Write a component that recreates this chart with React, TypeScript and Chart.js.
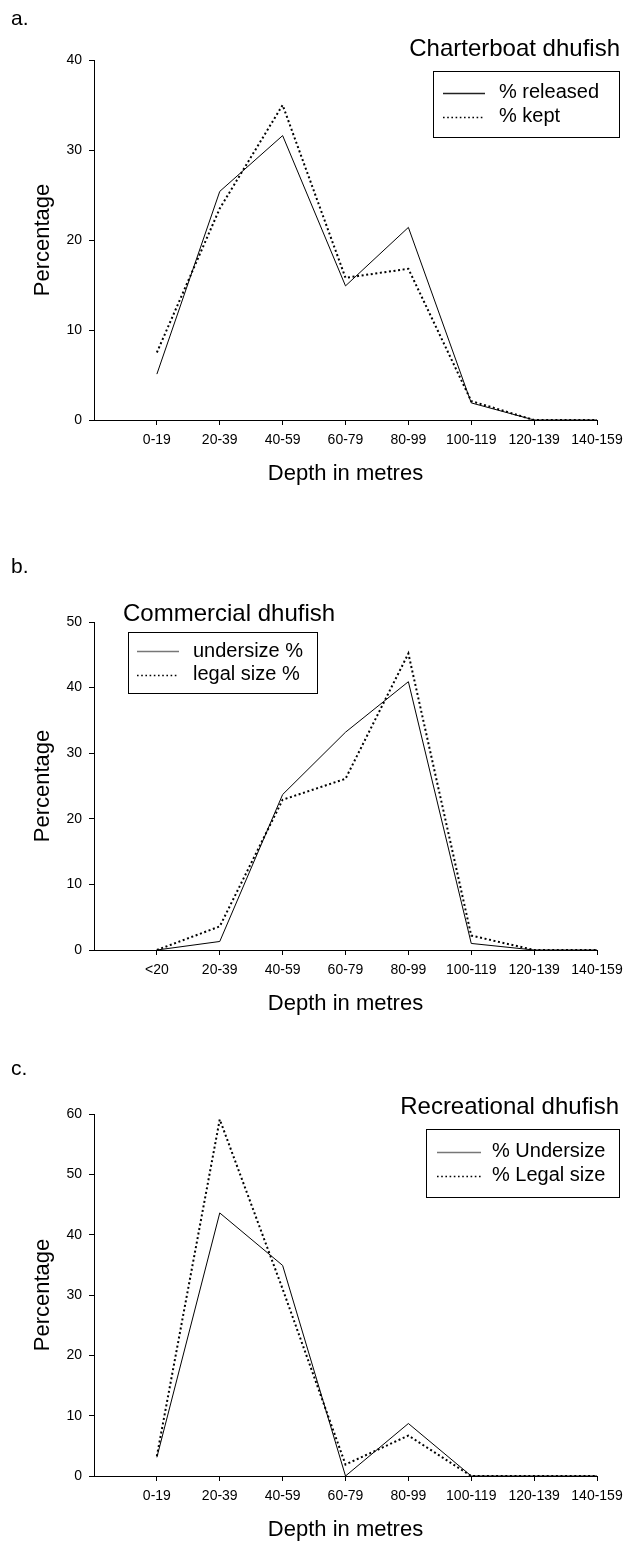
import React, { useEffect, useRef } from "react";
import { Chart, registerables } from "chart.js";

Chart.register(...registerables);

const FONT = "'Liberation Sans', Arial, Helvetica, sans-serif";

// ---------- data ----------
const depthLabelsA = ["0-19", "20-39", "40-59", "60-79", "80-99", "100-119", "120-139", "140-159"];
const depthLabelsB = ["<20", "20-39", "40-59", "60-79", "80-99", "100-119", "120-139", "140-159"];
const depthLabelsC = ["0-19", "20-39", "40-59", "60-79", "80-99", "100-119", "120-139", "140-159"];

const releasedA = [5.1, 25.4, 31.6, 14.9, 21.4, 1.9, 0, 0];
const keptA = [7.5, 23.5, 35.0, 15.8, 16.8, 2.1, 0, 0];

const undersizeB = [0, 1.3, 23.7, 33.2, 40.9, 1.0, 0, 0];
const legalB = [0, 3.6, 22.9, 26.1, 45.2, 2.2, 0, 0];

const undersizeC = [3.1, 43.6, 34.9, 0, 8.7, 0, 0, 0];
const legalC = [3.3, 59.1, 31.0, 1.9, 6.7, 0, 0, 0];

const yMaxA = 40;
const yMaxB = 50;
const yMaxC = 60;
const yStep = 10;

// ---------- layout ----------
type Series = { label: string; data: number[]; dotted: boolean };
type PanelCfg = {
  top: number;
  height: number;
  labels: string[];
  series: Series[];
  yMax: number;
  area: { left: number; right: number; top: number; bottom: number };
  panelLabel: string;
  panelY: number;
  title: string;
  titleX: number;
  titleY: number;
  titleAlign: CanvasTextAlign;
  legend: { x: number; y: number; w: number; h: number; rows: number[]; lx1: number; lx2: number; tx: number; solidColor: string };
};

const W = 623;

const panels: PanelCfg[] = [
  {
    top: 0,
    height: 500,
    labels: depthLabelsA,
    series: [
      { label: "% released", data: releasedA, dotted: false },
      { label: "% kept", data: keptA, dotted: true },
    ],
    yMax: yMaxA,
    area: { left: 94, right: 597, top: 60, bottom: 420 },
    panelLabel: "a.",
    panelY: 25,
    title: "Charterboat dhufish",
    titleX: 620,
    titleY: 56,
    titleAlign: "right",
    legend: { x: 433, y: 71, w: 186, h: 66, rows: [92.5, 116.5], lx1: 443, lx2: 485, tx: 499, solidColor: "#222" },
  },
  {
    top: 500,
    height: 520,
    labels: depthLabelsB,
    series: [
      { label: "undersize %", data: undersizeB, dotted: false },
      { label: "legal size %", data: legalB, dotted: true },
    ],
    yMax: yMaxB,
    area: { left: 94, right: 597, top: 122, bottom: 450 },
    panelLabel: "b.",
    panelY: 73,
    title: "Commercial dhufish",
    titleX: 123,
    titleY: 120.5,
    titleAlign: "left",
    legend: { x: 128, y: 132, w: 189, h: 61, rows: [151, 174.5], lx1: 137, lx2: 179, tx: 193, solidColor: "#777" },
  },
  {
    top: 1020,
    height: 523,
    labels: depthLabelsC,
    series: [
      { label: "% Undersize", data: undersizeC, dotted: false },
      { label: "% Legal size", data: legalC, dotted: true },
    ],
    yMax: yMaxC,
    area: { left: 94, right: 597, top: 94, bottom: 456 },
    panelLabel: "c.",
    panelY: 55,
    title: "Recreational dhufish",
    titleX: 619,
    titleY: 94,
    titleAlign: "right",
    legend: { x: 426, y: 109, w: 193, h: 68, rows: [131.5, 155.5], lx1: 437, lx2: 481, tx: 492, solidColor: "#777" },
  },
];

function makeOverlay(cfg: PanelCfg) {
  return {
    id: "overlay",
    afterDraw(chart: any) {
      const ctx: CanvasRenderingContext2D = chart.ctx;
      const ca = chart.chartArea;
      ctx.save();
      ctx.fillStyle = "#000";
      // panel label
      ctx.font = `21px ${FONT}`;
      ctx.textAlign = "left";
      ctx.textBaseline = "alphabetic";
      ctx.fillText(cfg.panelLabel, 11, cfg.panelY);
      // title
      ctx.font = `24px ${FONT}`;
      ctx.textAlign = cfg.titleAlign;
      ctx.fillText(cfg.title, cfg.titleX, cfg.titleY);
      // legend box
      const L = cfg.legend;
      ctx.strokeStyle = "#000";
      ctx.lineWidth = 1;
      ctx.setLineDash([]);
      ctx.strokeRect(L.x + 0.5, L.y + 0.5, L.w, L.h);
      ctx.font = `20px ${FONT}`;
      ctx.textAlign = "left";
      ctx.textBaseline = "middle";
      chart.data.datasets.forEach((ds: any, i: number) => {
        const y = L.rows[i];
        ctx.beginPath();
        if (ds.borderDash && ds.borderDash.length) {
          ctx.setLineDash([1.6, 2.6]);
          ctx.lineWidth = 1.6;
          ctx.strokeStyle = "#000";
        } else {
          ctx.setLineDash([]);
          ctx.lineWidth = 1.4;
          ctx.strokeStyle = L.solidColor;
        }
        ctx.moveTo(L.lx1, Math.round(y) + 0.5);
        ctx.lineTo(L.lx2, Math.round(y) + 0.5);
        ctx.stroke();
        ctx.setLineDash([]);
        ctx.fillText(ds.label, L.tx, y);
      });
      // axis titles
      ctx.font = `22px ${FONT}`;
      ctx.textAlign = "center";
      ctx.textBaseline = "middle";
      ctx.fillText("Depth in metres", (ca.left + ca.right) / 2, ca.bottom + 54);
      ctx.save();
      ctx.translate(43, (ca.top + ca.bottom) / 2);
      ctx.rotate(-Math.PI / 2);
      ctx.fillText("Percentage", 0, 0);
      ctx.restore();
      ctx.restore();
    },
  };
}

function buildConfig(cfg: PanelCfg): any {
  const xHeight = cfg.height - cfg.area.bottom;
  return {
    type: "line",
    data: {
      datasets: cfg.series.map((s) => ({
        label: s.label,
        data: s.data.map((v, i) => ({ x: i + 1, y: v })),
        borderColor: "#000",
        borderWidth: s.dotted ? 2 : 1,
        borderDash: s.dotted ? [2, 2.6] : [],
        pointRadius: 0,
        tension: 0,
        fill: false,
      })),
    },
    options: {
      responsive: false,
      animation: false,
      devicePixelRatio: 1,
      layout: { padding: { left: 0, right: W - cfg.area.right, top: cfg.area.top, bottom: 0 } },
      plugins: { legend: { display: false }, tooltip: { enabled: false }, title: { display: false } },
      scales: {
        x: {
          type: "linear",
          min: 0,
          max: 8,
          afterBuildTicks: (scale: any) => {
            scale.ticks = cfg.labels.map((_, i) => ({ value: i + 1 }));
          },
          afterFit: (scale: any) => {
            scale.height = xHeight;
            scale.paddingLeft = 0;
            scale.paddingRight = 0;
          },
          ticks: {
            autoSkip: false,
            maxRotation: 0,
            minRotation: 0,
            padding: 7,
            color: "#000",
            font: { family: FONT, size: 14 },
            callback: (v: number) => cfg.labels[Math.round(v) - 1] ?? "",
          },
          grid: { display: true, drawOnChartArea: false, drawTicks: true, tickLength: 5, color: "#000", lineWidth: 1 },
          border: { display: true, color: "#000", width: 1 },
        },
        y: {
          type: "linear",
          min: 0,
          max: cfg.yMax,
          afterFit: (scale: any) => {
            scale.width = cfg.area.left;
            scale.paddingTop = 0;
            scale.paddingBottom = 0;
          },
          ticks: {
            stepSize: yStep,
            padding: 7,
            color: "#000",
            font: { family: FONT, size: 14 },
          },
          grid: { display: true, drawOnChartArea: false, drawTicks: true, tickLength: 5, color: "#000", lineWidth: 1 },
          border: { display: true, color: "#000", width: 1 },
        },
      },
    },
    plugins: [makeOverlay(cfg)],
  };
}

function Panel({ cfg }: { cfg: PanelCfg }) {
  const ref = useRef<HTMLCanvasElement>(null);
  useEffect(() => {
    const chart = new Chart(ref.current as HTMLCanvasElement, buildConfig(cfg));
    return () => chart.destroy();
  }, [cfg]);
  return (
    <canvas
      ref={ref}
      width={W}
      height={cfg.height}
      style={{ position: "absolute", left: 0, top: cfg.top, width: W, height: cfg.height, display: "block" }}
    />
  );
}

export default function App() {
  return (
    <div style={{ position: "absolute", left: 0, top: 0, width: W, height: 1543, background: "#fff", overflow: "hidden" }}>
      {panels.map((p) => (
        <Panel key={p.panelLabel} cfg={p} />
      ))}
    </div>
  );
}
